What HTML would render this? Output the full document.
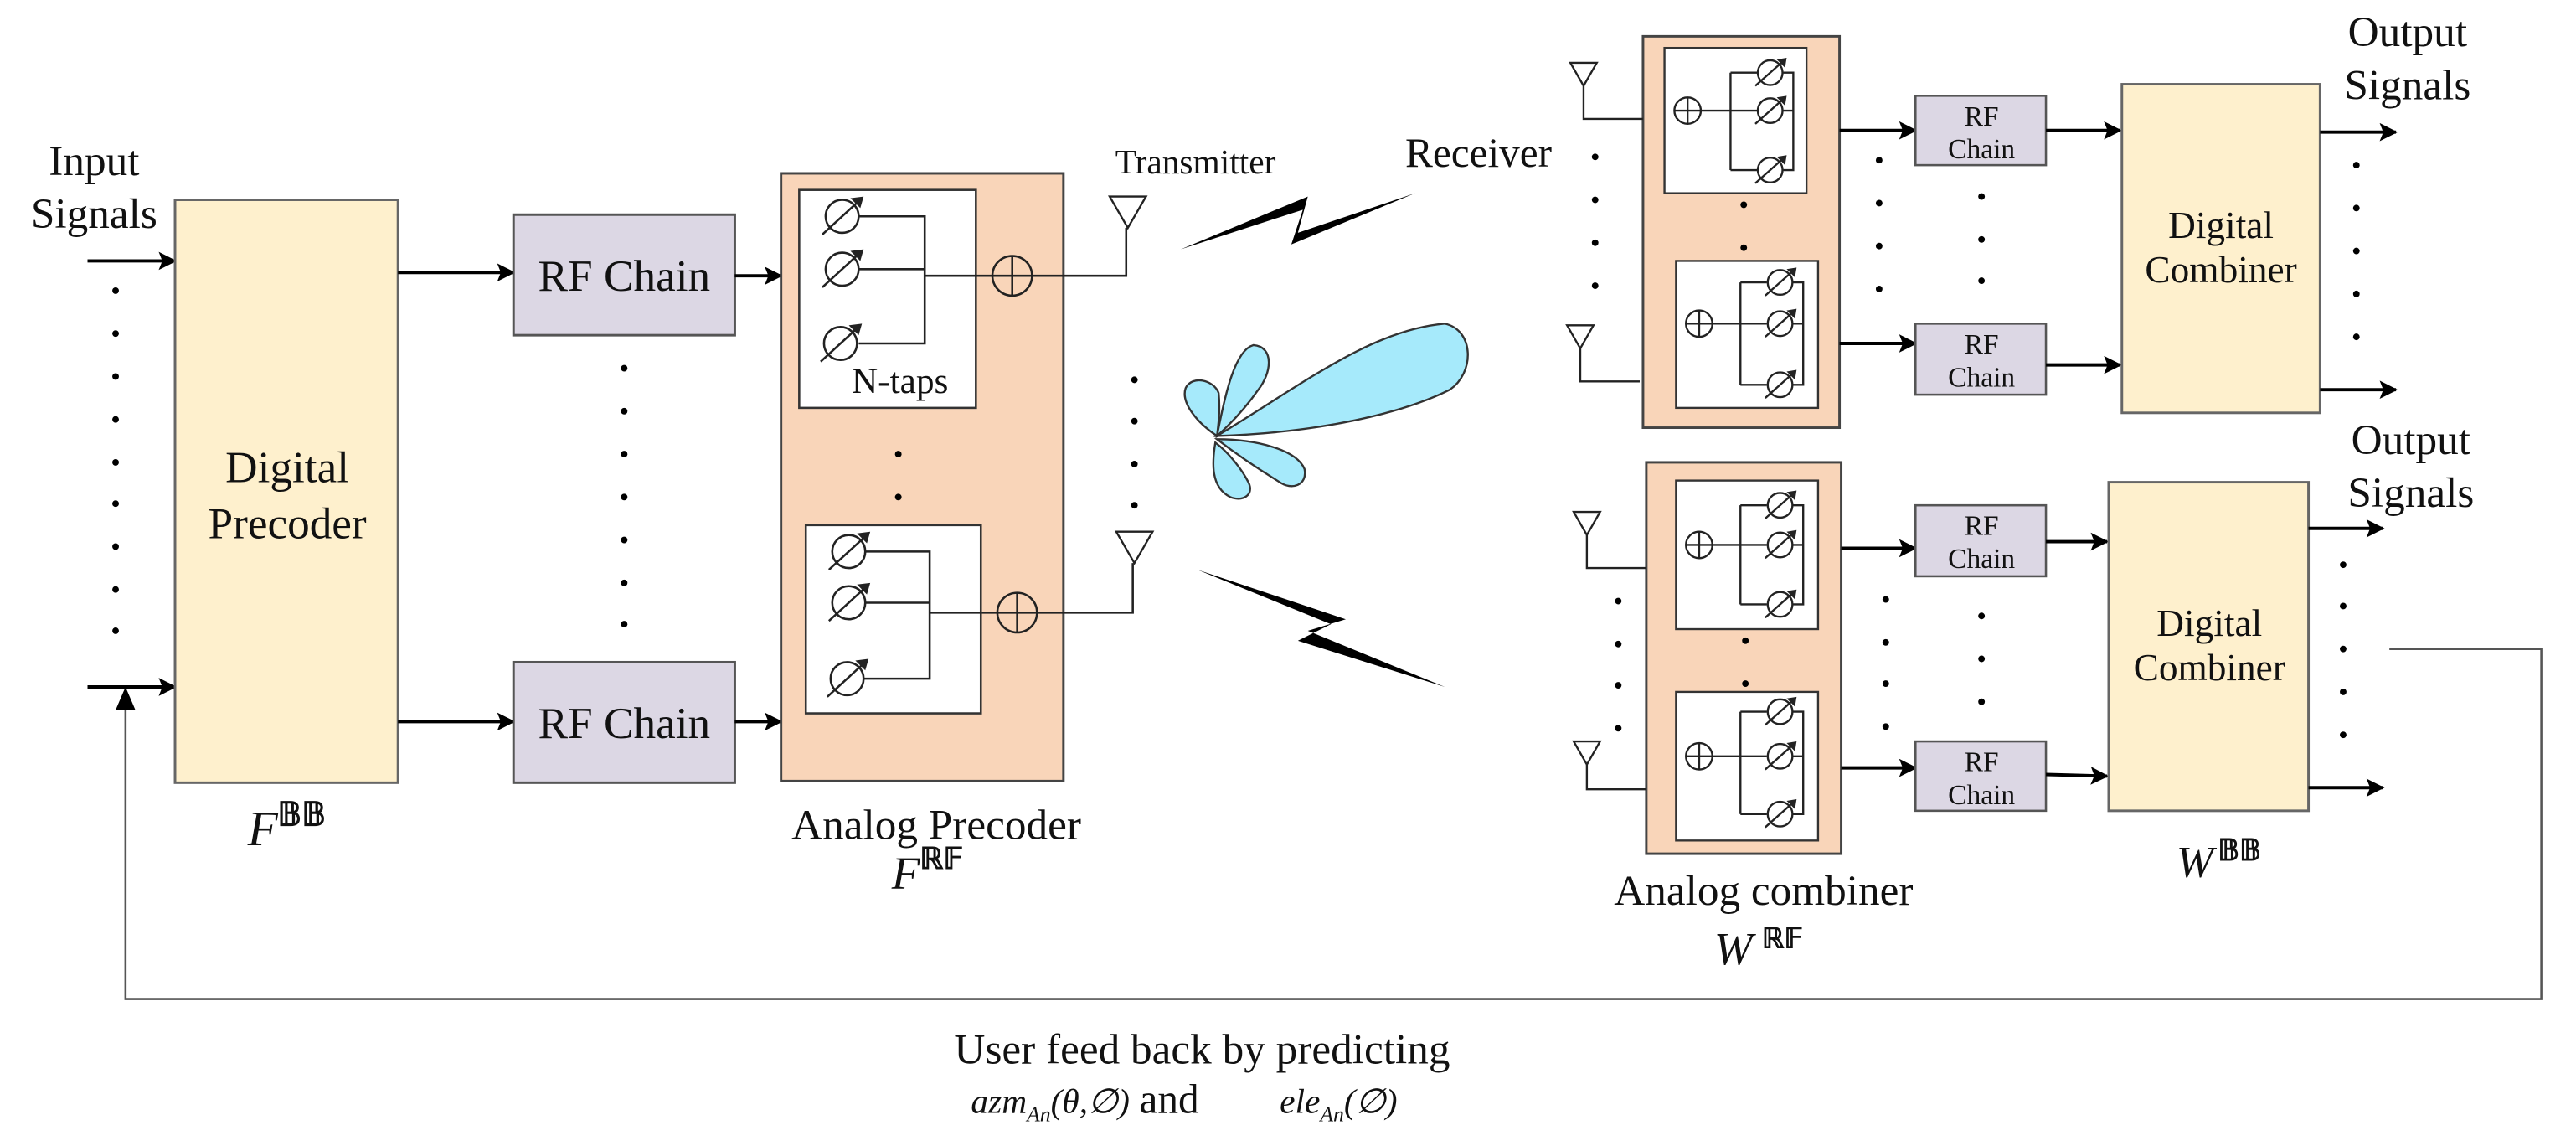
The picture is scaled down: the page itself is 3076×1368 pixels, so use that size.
<!DOCTYPE html>
<html><head><meta charset="utf-8"><style>
html,body{margin:0;padding:0;background:#fff;}
svg{display:block;}
text{font-family:"Liberation Serif",serif;fill:#111;}
.it{font-style:italic;}
</style></head><body>
<svg width="3076" height="1368" viewBox="0 0 1560 694" preserveAspectRatio="none" xmlns="http://www.w3.org/2000/svg">
<defs>
<marker id="a2" viewBox="0 0 10 10" refX="9" refY="5" markerWidth="12" markerHeight="11" orient="auto" markerUnits="userSpaceOnUse"><path d="M0,0 L10,5 L0,10 L2,5 Z" fill="#000"/></marker>
<g id="ps"><circle cx="0" cy="0" r="10" fill="none" stroke="#222" stroke-width="1.3"/><line x1="-12" y1="11" x2="12" y2="-11" stroke="#222" stroke-width="1.3"/><path d="M13,-12 L5,-11 L11,-5 Z" fill="#222"/></g>
<g id="psr"><circle cx="0" cy="0" r="7.5" fill="none" stroke="#222" stroke-width="1.2"/><line x1="-9" y1="8" x2="9" y2="-8" stroke="#222" stroke-width="1.2"/><path d="M10,-9 L4,-8 L9,-3 Z" fill="#222"/></g>
<g id="plus"><ellipse cx="0" cy="0" rx="12" ry="12" fill="none" stroke="#222" stroke-width="1.3"/><line x1="-12" y1="0" x2="12" y2="0" stroke="#222" stroke-width="1.3"/><line x1="0" y1="-12" x2="0" y2="12" stroke="#222" stroke-width="1.3"/></g>
<g id="plusr"><circle cx="0" cy="0" r="8" fill="none" stroke="#222" stroke-width="1.2"/><line x1="-8" y1="0" x2="8" y2="0" stroke="#222" stroke-width="1.2"/><line x1="0" y1="-8" x2="0" y2="8" stroke="#222" stroke-width="1.2"/></g>
<g id="ant"><path d="M-11,0 L11,0 L0,19 Z" fill="#fff" stroke="#222" stroke-width="1.2"/></g>
<g id="antr"><path d="M-8,0 L8,0 L0,14 Z" fill="#fff" stroke="#222" stroke-width="1.2"/></g>
</defs>

<text x="57" y="106" font-size="26" text-anchor="middle">Input</text>
<text x="57" y="138" font-size="26" text-anchor="middle">Signals</text>
<line x1="53" y1="158" x2="106" y2="158" stroke="#000" stroke-width="2" marker-end="url(#a2)"/>
<line x1="53" y1="416" x2="106" y2="416" stroke="#000" stroke-width="2" marker-end="url(#a2)"/>
<g fill="#000">
<circle cx="70" cy="176" r="2"/><circle cx="70" cy="202" r="2"/><circle cx="70" cy="228" r="2"/><circle cx="70" cy="254" r="2"/><circle cx="70" cy="280" r="2"/><circle cx="70" cy="305" r="2"/><circle cx="70" cy="331" r="2"/><circle cx="70" cy="357" r="2"/><circle cx="70" cy="382" r="2"/>
</g>

<rect x="106" y="121" width="135" height="353" fill="#FEF0CD" stroke="#666" stroke-width="1.5"/>
<text x="174" y="292" font-size="27" text-anchor="middle">Digital</text>
<text x="174" y="326" font-size="27" text-anchor="middle">Precoder</text>
<text x="150" y="512" font-size="30" class="it">F</text>
<text x="168" y="500" font-size="20" font-weight="bold" fill="#333">𝔹𝔹</text>

<line x1="241" y1="165" x2="311" y2="165" stroke="#000" stroke-width="2" marker-end="url(#a2)"/>
<line x1="241" y1="437" x2="311" y2="437" stroke="#000" stroke-width="2" marker-end="url(#a2)"/>

<rect x="311" y="130" width="134" height="73" fill="#DCD7E4" stroke="#555" stroke-width="1.5"/>
<text x="378" y="176" font-size="27" text-anchor="middle">RF Chain</text>
<rect x="311" y="401" width="134" height="73" fill="#DCD7E4" stroke="#555" stroke-width="1.5"/>
<text x="378" y="447" font-size="27" text-anchor="middle">RF Chain</text>
<g fill="#000"><circle cx="378" cy="223" r="2"/><circle cx="378" cy="249" r="2"/><circle cx="378" cy="275" r="2"/><circle cx="378" cy="301" r="2"/><circle cx="378" cy="327" r="2"/><circle cx="378" cy="353" r="2"/><circle cx="378" cy="378" r="2"/></g>
<line x1="445" y1="167" x2="473" y2="167" stroke="#000" stroke-width="2" marker-end="url(#a2)"/>
<line x1="445" y1="437" x2="473" y2="437" stroke="#000" stroke-width="2" marker-end="url(#a2)"/>

<rect x="473" y="105" width="171" height="368" fill="#F9D5B9" stroke="#444" stroke-width="1.5"/>
<rect x="484" y="115" width="107" height="132" fill="#fff" stroke="#333" stroke-width="1.3"/>
<g stroke="#222" stroke-width="1.3" fill="none">
<path d="M520,131 H560 V208 H520 M520,163 H560 M560,167 H601 M625,167 H682 V138"/>
<path d="M563,371 H604 M628,371 H686 V341"/>
</g>
<use href="#ps" x="510" y="131"/><use href="#ps" x="510" y="163"/><use href="#ps" x="509" y="208"/>
<use href="#plus" x="613" y="167"/>
<text x="545" y="238" font-size="22" text-anchor="middle">N-taps</text>
<circle cx="544" cy="275" r="2"/><circle cx="544" cy="301" r="2"/>
<rect x="488" y="318" width="106" height="114" fill="#fff" stroke="#333" stroke-width="1.3"/>
<g stroke="#222" stroke-width="1.3" fill="none"><path d="M524,334 H563 V411 H523 M524,365 H563 M563,371 H594"/></g>
<use href="#ps" x="514" y="334"/><use href="#ps" x="514" y="365"/><use href="#ps" x="513" y="411"/>
<use href="#plus" x="616" y="371"/>
<use href="#ant" x="683" y="119"/>
<use href="#ant" x="687" y="322"/>
<g fill="#000"><circle cx="687" cy="230" r="2"/><circle cx="687" cy="255" r="2"/><circle cx="687" cy="281" r="2"/><circle cx="687" cy="306" r="2"/></g>
<text x="724" y="105" font-size="21" text-anchor="middle">Transmitter</text>
<text x="567" y="508" font-size="26" text-anchor="middle">Analog Precoder</text>
<text x="540" y="538" font-size="28" class="it">F</text>
<text x="557" y="526" font-size="18" font-weight="bold" fill="#333">ℝ𝔽</text>

<path d="M715,151 L792,119 L786,141 L857,117 L782,148 L789,127 Z" fill="#000"/>
<path d="M725,345 L815,375 L792,382 L875,416 L786,388 L806,378 Z" fill="#000"/>

<g fill="#A6EAFB" stroke="#333" stroke-width="1.2">
<path d="M737,264 C790,232 830,200 875,196 C893,200 893,226 878,236 C850,250 800,262 737,264 Z"/>
<path d="M737,264 C742,238 748,212 759,209 C772,210 770,226 762,236 C755,246 746,256 737,264 Z"/>
<path d="M737,264 C725,256 715,244 718,235 C722,227 735,230 738,238 C739,248 738,256 737,264 Z"/>
<path d="M737,266 C760,266 785,272 790,284 C792,294 782,297 775,292 C762,284 750,276 737,266 Z"/>
<path d="M736,268 C734,280 733,295 745,301 C752,304 760,300 756,292 C752,284 744,274 736,268 Z"/>
</g>

<text x="851" y="101" font-size="25">Receiver</text>

<rect x="995" y="22" width="119" height="237" fill="#F9D5B9" stroke="#444" stroke-width="1.5"/>
<rect x="1008" y="29" width="86" height="88" fill="#fff" stroke="#333" stroke-width="1.2"/>
<rect x="1015" y="158" width="86" height="89" fill="#fff" stroke="#333" stroke-width="1.2"/>
<g stroke="#222" stroke-width="1.2" fill="none">
<path d="M1030,67 H1048 M1048,44 V103 M1048,44 H1064 M1048,67 H1064 M1048,103 H1064 M1080,44 H1086 V103 H1080 M1080,67 H1086"/>
<path d="M1037,196 H1054 M1054,171 V233 M1054,171 H1070 M1054,196 H1070 M1054,233 H1070 M1086,171 H1092 V233 H1086 M1086,196 H1092"/>
<path d="M959,52 V72 H995 M957,211 V231 H993"/>
</g>
<use href="#plusr" x="1022" y="67"/><use href="#psr" x="1072" y="44"/><use href="#psr" x="1072" y="67"/><use href="#psr" x="1072" y="103"/>
<use href="#plusr" x="1029" y="196"/><use href="#psr" x="1078" y="171"/><use href="#psr" x="1078" y="196"/><use href="#psr" x="1078" y="233"/>
<use href="#antr" x="959" y="38"/><use href="#antr" x="957" y="197"/>
<g fill="#000">
<circle cx="1056" cy="124" r="2"/><circle cx="1056" cy="150" r="2"/>
<circle cx="966" cy="95" r="2"/><circle cx="966" cy="121" r="2"/><circle cx="966" cy="147" r="2"/><circle cx="966" cy="173" r="2"/>
<circle cx="1138" cy="97" r="2"/><circle cx="1138" cy="123" r="2"/><circle cx="1138" cy="149" r="2"/><circle cx="1138" cy="175" r="2"/>
<circle cx="1200" cy="119" r="2"/><circle cx="1200" cy="145" r="2"/><circle cx="1200" cy="170" r="2"/>
<circle cx="1427" cy="100" r="2"/><circle cx="1427" cy="126" r="2"/><circle cx="1427" cy="152" r="2"/><circle cx="1427" cy="178" r="2"/><circle cx="1427" cy="204" r="2"/>
</g>
<line x1="1114" y1="79" x2="1160" y2="79" stroke="#000" stroke-width="2" marker-end="url(#a2)"/>
<line x1="1114" y1="208" x2="1160" y2="208" stroke="#000" stroke-width="2" marker-end="url(#a2)"/>
<rect x="1160" y="58" width="79" height="42" fill="#DCD7E4" stroke="#555" stroke-width="1.3"/>
<text x="1200" y="76" font-size="17" text-anchor="middle">RF</text><text x="1200" y="96" font-size="17" text-anchor="middle">Chain</text>
<rect x="1160" y="196" width="79" height="43" fill="#DCD7E4" stroke="#555" stroke-width="1.3"/>
<text x="1200" y="214" font-size="17" text-anchor="middle">RF</text><text x="1200" y="234" font-size="17" text-anchor="middle">Chain</text>
<line x1="1239" y1="79" x2="1284" y2="79" stroke="#000" stroke-width="2" marker-end="url(#a2)"/>
<line x1="1239" y1="221" x2="1284" y2="221" stroke="#000" stroke-width="2" marker-end="url(#a2)"/>
<rect x="1285" y="51" width="120" height="199" fill="#FEF0CD" stroke="#666" stroke-width="1.5"/>
<text x="1345" y="144" font-size="23" text-anchor="middle">Digital</text>
<text x="1345" y="171" font-size="23" text-anchor="middle">Combiner</text>
<line x1="1405" y1="80" x2="1451" y2="80" stroke="#000" stroke-width="2" marker-end="url(#a2)"/>
<line x1="1405" y1="236" x2="1451" y2="236" stroke="#000" stroke-width="2" marker-end="url(#a2)"/>
<text x="1458" y="28" font-size="26" text-anchor="middle">Output</text>
<text x="1458" y="60" font-size="26" text-anchor="middle">Signals</text>

<rect x="997" y="280" width="118" height="237" fill="#F9D5B9" stroke="#444" stroke-width="1.5"/>
<rect x="1015" y="291" width="86" height="90" fill="#fff" stroke="#333" stroke-width="1.2"/>
<rect x="1015" y="419" width="86" height="90" fill="#fff" stroke="#333" stroke-width="1.2"/>
<g stroke="#222" stroke-width="1.2" fill="none">
<path d="M1037,330 H1054 M1054,306 V366 M1054,306 H1070 M1054,330 H1070 M1054,366 H1070 M1086,306 H1092 V366 H1086 M1086,330 H1092"/>
<path d="M1037,458 H1054 M1054,431 V493 M1054,431 H1070 M1054,458 H1070 M1054,493 H1070 M1086,431 H1092 V493 H1086 M1086,458 H1092"/>
<path d="M961,324 V344 H997 M961,463 V478 H997"/>
</g>
<use href="#plusr" x="1029" y="330"/><use href="#psr" x="1078" y="306"/><use href="#psr" x="1078" y="330"/><use href="#psr" x="1078" y="366"/>
<use href="#plusr" x="1029" y="458"/><use href="#psr" x="1078" y="431"/><use href="#psr" x="1078" y="458"/><use href="#psr" x="1078" y="493"/>
<use href="#antr" x="961" y="310"/><use href="#antr" x="961" y="449"/>
<g fill="#000">
<circle cx="1057" cy="388" r="2"/><circle cx="1057" cy="414" r="2"/>
<circle cx="980" cy="364" r="2"/><circle cx="980" cy="390" r="2"/><circle cx="980" cy="415" r="2"/><circle cx="980" cy="441" r="2"/>
<circle cx="1142" cy="363" r="2"/><circle cx="1142" cy="389" r="2"/><circle cx="1142" cy="414" r="2"/><circle cx="1142" cy="440" r="2"/>
<circle cx="1200" cy="373" r="2"/><circle cx="1200" cy="399" r="2"/><circle cx="1200" cy="425" r="2"/>
<circle cx="1419" cy="342" r="2"/><circle cx="1419" cy="367" r="2"/><circle cx="1419" cy="393" r="2"/><circle cx="1419" cy="419" r="2"/><circle cx="1419" cy="445" r="2"/>
</g>
<line x1="1115" y1="332" x2="1160" y2="332" stroke="#000" stroke-width="2" marker-end="url(#a2)"/>
<line x1="1115" y1="465" x2="1160" y2="465" stroke="#000" stroke-width="2" marker-end="url(#a2)"/>
<rect x="1160" y="306" width="79" height="43" fill="#DCD7E4" stroke="#555" stroke-width="1.3"/>
<text x="1200" y="324" font-size="17" text-anchor="middle">RF</text><text x="1200" y="344" font-size="17" text-anchor="middle">Chain</text>
<rect x="1160" y="449" width="79" height="42" fill="#DCD7E4" stroke="#555" stroke-width="1.3"/>
<text x="1200" y="467" font-size="17" text-anchor="middle">RF</text><text x="1200" y="487" font-size="17" text-anchor="middle">Chain</text>
<line x1="1239" y1="328" x2="1276" y2="328" stroke="#000" stroke-width="2" marker-end="url(#a2)"/>
<line x1="1239" y1="469" x2="1276" y2="470" stroke="#000" stroke-width="2" marker-end="url(#a2)"/>
<rect x="1277" y="292" width="121" height="199" fill="#FEF0CD" stroke="#666" stroke-width="1.5"/>
<text x="1338" y="385" font-size="23" text-anchor="middle">Digital</text>
<text x="1338" y="412" font-size="23" text-anchor="middle">Combiner</text>
<line x1="1398" y1="320" x2="1443" y2="320" stroke="#000" stroke-width="2" marker-end="url(#a2)"/>
<line x1="1398" y1="477" x2="1443" y2="477" stroke="#000" stroke-width="2" marker-end="url(#a2)"/>
<text x="1460" y="275" font-size="26" text-anchor="middle">Output</text>
<text x="1460" y="307" font-size="26" text-anchor="middle">Signals</text>
<text x="1318" y="531" font-size="27" class="it">W</text>
<text x="1343" y="521" font-size="18" font-weight="bold" fill="#333">𝔹𝔹</text>
<text x="1068" y="548" font-size="26" text-anchor="middle">Analog combiner</text>
<text x="1038" y="584" font-size="28" class="it">W</text>
<text x="1067" y="574" font-size="17" font-weight="bold" fill="#333">ℝ𝔽</text>

<path d="M1447,393 H1539 V605 H76 V425" fill="none" stroke="#555" stroke-width="1.3"/>
<path d="M76,416 L70,430 L82,430 Z" fill="#000"/>
<text x="728" y="644" font-size="26" text-anchor="middle">User feed back by predicting</text>
<text x="588" y="674" font-size="21" class="it">azm<tspan font-size="13" dy="5">An</tspan><tspan dy="-5">(θ,∅)</tspan></text>
<text x="690" y="674" font-size="25">and</text>
<text x="775" y="674" font-size="21" class="it">ele<tspan font-size="13" dy="5">An</tspan><tspan dy="-5">(∅)</tspan></text>
</svg>
</body></html>
